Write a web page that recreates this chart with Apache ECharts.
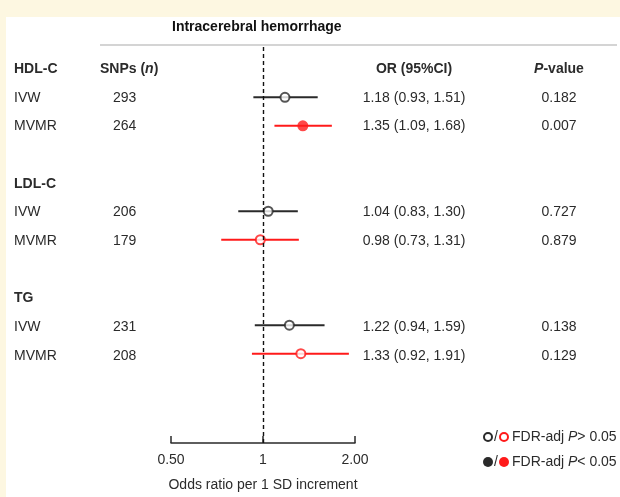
<!DOCTYPE html>
<html>
<head>
<meta charset="utf-8">
<script src="https://cdn.jsdelivr.net/npm/echarts@6/dist/echarts.min.js"></script>
<style>html,body{margin:0;padding:0;background:#fff;}#c{width:620px;height:497px;}</style>
</head>
<body>
<div id="c"></div>
<script>
// ---- data ----
const exposures = ['HDL-C', 'LDL-C', 'TG'];
const methods = ['IVW', 'MVMR'];
const snps = [293, 264, 206, 179, 231, 208];
const orValues = [1.18, 1.35, 1.04, 0.98, 1.22, 1.33];
const ciLower = [0.93, 1.09, 0.83, 0.73, 0.94, 0.92];
const ciUpper = [1.51, 1.68, 1.30, 1.31, 1.59, 1.91];
const pValues = ['0.182', '0.007', '0.727', '0.879', '0.138', '0.129'];
const fdrSignificant = [false, true, false, false, false, false];
const xTicks = [0.5, 1, 2];
const xTickLabels = ['0.50', '1', '2.00'];
const titleText = 'Intracerebral hemorrhage';
const xAxisTitle = 'Odds ratio per 1 SD increment';

// ---- layout ----
const FONT = '"Liberation Sans", Arial, sans-serif';
const TXT = '#2b2b2b';
const BLACK = '#2a2a2a';
const RED = '#ff1a1a';
const ROW_PX = 28.7, ROW0_PX = 69, GRID_TOP = 47, GRID_BOTTOM_PX = 446;
const yMin = (GRID_TOP - ROW0_PX) / ROW_PX;
const yMax = (GRID_BOTTOM_PX - ROW0_PX) / ROW_PX;
const COL_LABEL = 14, COL_SNP_HEAD = 100, COL_SNP = 113, COL_OR = 414, COL_P = 559;

const rowOf = (g, m) => g * 4 + 1 + m;
const rowData = [];
exposures.forEach((e, g) => methods.forEach((m, j) => {
  const i = g * methods.length + j;
  rowData.push({ i, g, m: j, row: rowOf(g, j) });
}));

// text cells: [xcol, row, text, align, bold, isRich]
const cells = [];
exposures.forEach((e, g) => cells.push([COL_LABEL, g * 4, e, 'left', true]));
cells.push([COL_SNP_HEAD, 0, '{b|SNPs (}{bi|n}{b|)}', 'left', true, true]);
cells.push([COL_OR, 0, 'OR (95%CI)', 'center', true]);
cells.push([COL_P, 0, '{bi|P}{b|-value}', 'center', true, true]);
rowData.forEach(d => {
  cells.push([COL_LABEL, d.row, methods[d.m], 'left', false]);
  cells.push([COL_SNP, d.row, String(snps[d.i]), 'left', false]);
  cells.push([COL_OR, d.row, orValues[d.i].toFixed(2) + ' (' + ciLower[d.i].toFixed(2) + ', ' + ciUpper[d.i].toFixed(2) + ')', 'center', false]);
  cells.push([COL_P, d.row, pValues[d.i], 'center', false]);
});

const rich = {
  b: { fontFamily: FONT, fontSize: 14, fontWeight: 'bold', fill: TXT, color: TXT },
  bi: { fontFamily: FONT, fontSize: 14, fontWeight: 'bold', fontStyle: 'italic', fill: TXT, color: TXT }
};

const chart = echarts.init(document.getElementById('c'), null, { renderer: 'canvas' });
const option = {
  backgroundColor: '#fdf7e1',
  animation: false,
  grid: [
    { left: 171, width: 184, top: GRID_TOP, height: GRID_BOTTOM_PX - GRID_TOP },
    { left: 0, right: 0, top: GRID_TOP, height: GRID_BOTTOM_PX - GRID_TOP }
  ],
  xAxis: [
    {
      type: 'log', logBase: 2, min: xTicks[0], max: xTicks[xTicks.length - 1], gridIndex: 0,
      position: 'bottom',
      axisLine: { show: true, onZero: false, lineStyle: { color: BLACK, width: 1.5 } },
      axisTick: { show: true, inside: true, length: 7, lineStyle: { color: BLACK, width: 1.5 } },
      axisLabel: { show: true, margin: 10, color: TXT, fontFamily: FONT, fontSize: 14,
        formatter: v => { const k = xTicks.findIndex(t => Math.abs(t - v) < 1e-6); return k >= 0 ? xTickLabels[k] : ''; } },
      splitLine: { show: false },
      name: xAxisTitle, nameLocation: 'middle', nameGap: 35,
      nameTextStyle: { color: TXT, fontFamily: FONT, fontSize: 14 }
    },
    { type: 'value', min: 0, max: 620, gridIndex: 1, show: false }
  ],
  yAxis: [
    { type: 'value', inverse: true, min: yMin, max: yMax, gridIndex: 0, show: false },
    { type: 'value', inverse: true, min: yMin, max: yMax, gridIndex: 1, show: false }
  ],
  graphic: [
    { type: 'rect', left: 6, top: 17, shape: { width: 614, height: 480 }, style: { fill: '#ffffff' }, z: -10 },
    { type: 'line', shape: { x1: 100, y1: 45, x2: 617, y2: 45 }, style: { stroke: '#d4d4d4', lineWidth: 2 } },
    { type: 'text', left: 172, top: 20, style: { text: titleText, font: 'bold 14px ' + FONT, fill: '#111' } },
    // legend
    { type: 'circle', shape: { cx: 488, cy: 437, r: 4 }, style: { fill: '#fff', stroke: BLACK, lineWidth: 2 } },
    { type: 'text', x: 494, y: 437, style: { text: '/', font: '14px ' + FONT, fill: TXT, textVerticalAlign: 'middle' } },
    { type: 'circle', shape: { cx: 504, cy: 437, r: 4 }, style: { fill: '#fff', stroke: RED, lineWidth: 2 } },
    { type: 'text', x: 512, y: 437, style: { text: '{n|FDR-adj }{i|P}{n|> 0.05}', textVerticalAlign: 'middle',
      rich: { n: { font: '14px ' + FONT, fill: TXT }, i: { font: 'italic 14px ' + FONT, fill: TXT } } } },
    { type: 'circle', shape: { cx: 488, cy: 462, r: 5 }, style: { fill: BLACK } },
    { type: 'text', x: 494, y: 462, style: { text: '/', font: '14px ' + FONT, fill: TXT, textVerticalAlign: 'middle' } },
    { type: 'circle', shape: { cx: 504, cy: 462, r: 5 }, style: { fill: RED } },
    { type: 'text', x: 512, y: 462, style: { text: '{n|FDR-adj }{i|P}{n|< 0.05}', textVerticalAlign: 'middle',
      rich: { n: { font: '14px ' + FONT, fill: TXT }, i: { font: 'italic 14px ' + FONT, fill: TXT } } } }
  ],
  series: [
    {
      type: 'custom', xAxisIndex: 0, yAxisIndex: 0, clip: false,
      data: rowData.map(d => [ciLower[d.i], ciUpper[d.i], d.row, d.m]),
      renderItem: (params, api) => {
        const p1 = api.coord([api.value(0), api.value(2)]);
        const p2 = api.coord([api.value(1), api.value(2)]);
        return { type: 'line', shape: { x1: p1[0], y1: p1[1], x2: p2[0], y2: p2[1] },
          style: { stroke: api.value(3) === 1 ? RED : BLACK, lineWidth: 2 } };
      },
      markLine: {
        silent: true, symbol: 'none', label: { show: false },
        lineStyle: { color: '#111', type: [4, 3], width: 1.4 },
        data: [{ xAxis: 1 }]
      },
      z: 2
    },
    {
      type: 'scatter', xAxisIndex: 0, yAxisIndex: 0,
      data: rowData.map(d => ({
        value: [orValues[d.i], d.row],
        symbolSize: fdrSignificant[d.i] ? 11 : 9,
        itemStyle: fdrSignificant[d.i]
          ? { color: d.m === 1 ? RED : BLACK, borderWidth: 0 }
          : { color: '#fff', borderColor: d.m === 1 ? RED : BLACK, borderWidth: 2 }
      })),
      z: 3
    },
    {
      type: 'custom', xAxisIndex: 1, yAxisIndex: 1, clip: false,
      data: cells.map(c => [c[0], c[1]]),
      renderItem: (params, api) => {
        const c = cells[params.dataIndex];
        const p = api.coord([api.value(0), api.value(1)]);
        const style = { x: 0, y: 0, text: c[2], textAlign: c[3], textVerticalAlign: 'middle', fill: TXT,
          font: (c[4] ? 'bold ' : '') + '14px ' + FONT };
        if (c[5]) style.rich = rich;
        return { type: 'text', x: p[0], y: p[1], style };
      }
    }
  ]
};
chart.setOption(option);
</script>
</body>
</html>
